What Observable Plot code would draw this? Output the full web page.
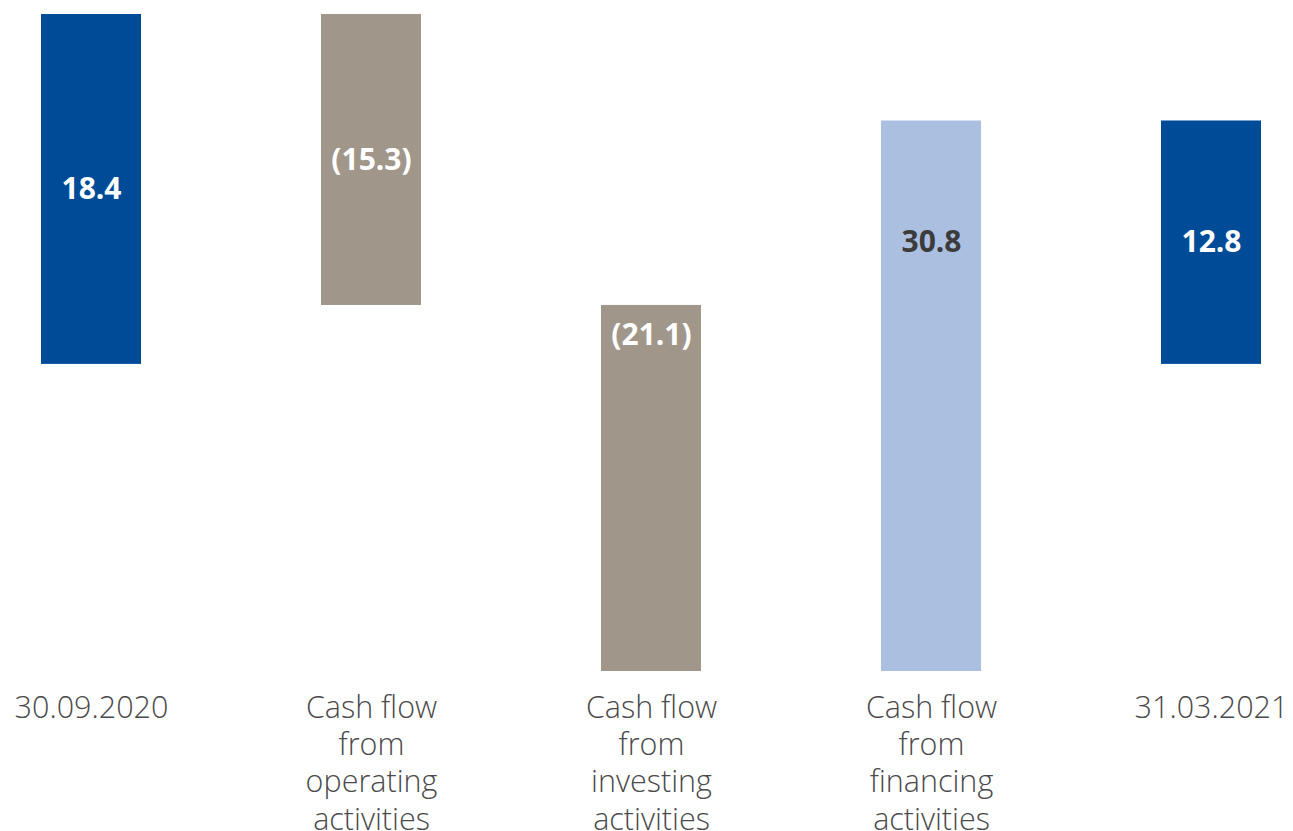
<!DOCTYPE html>
<html><head><meta charset="utf-8">
<script src="https://cdn.jsdelivr.net/npm/d3@7"></script>
<script src="https://cdn.jsdelivr.net/npm/@observablehq/plot@0.6"></script>
<style>
html,body{margin:0;padding:0;background:#fff;}
#chart svg{display:block;}
</style>
</head><body><div id="chart"></div>
<script>
const categories = ["30.09.2020", "Cash flow\nfrom\noperating\nactivities", "Cash flow\nfrom\ninvesting\nactivities", "Cash flow\nfrom\nfinancing\nactivities", "31.03.2021"];
const values = [18.4, -15.3, -21.1, 30.8, 12.8];
const kinds = ["total", "flow", "flow", "flow", "total"];
const labels = ["18.4", "(15.3)", "(21.1)", "30.8", "12.8"];

const colorFor = (k, v) => k === "total" ? "#004b98" : (v < 0 ? "#a0968a" : "#abc0e1");
const labelColorFor = (k, v) => (k === "flow" && v > 0) ? "#3c3c3c" : "#ffffff";

let run = 0;
const data = categories.map((c, i) => {
  let y1, y2;
  if (kinds[i] === "total") { y1 = 0; y2 = values[i]; run = values[i]; }
  else { y1 = run; y2 = run + values[i]; run = y2; }
  const lo = Math.min(y1, y2), hi = Math.max(y1, y2);
  const labLo = Math.max(lo, 0);
  return { cat: c, y1, y2, label: labels[i], fill: colorFor(kinds[i], values[i]),
           tc: labelColorFor(kinds[i], values[i]), ly: (labLo + hi) / 2 };
});

const chart = Plot.plot({
  width: 1293,
  height: 831,
  marginTop: 14,
  marginBottom: 160,
  marginLeft: 41,
  marginRight: 32,
  style: { fontFamily: "'Open Sans', sans-serif", background: "#fff" },
  x: { domain: categories, paddingInner: 0.643, paddingOuter: 0, label: null },
  y: { domain: [-16.15, 18.4], clamp: true, axis: null },
  marks: [
    Plot.barY(data, { x: "cat", y1: "y1", y2: "y2", fill: "fill" }),
    Plot.text(data, { x: "cat", y: "ly", text: "label", fill: "tc", fontSize: 30, fontWeight: "bold" }),
    Plot.axisX({ tickSize: 0, tickPadding: 20, fontSize: 30.5, fontWeight: 300, lineHeight: 1.22, fill: "#4a4a4a", textAnchor: "middle", frameAnchor: "bottom", lineAnchor: "top", label: null })
  ]
});
document.getElementById("chart").appendChild(chart);
</script>
</body></html>
